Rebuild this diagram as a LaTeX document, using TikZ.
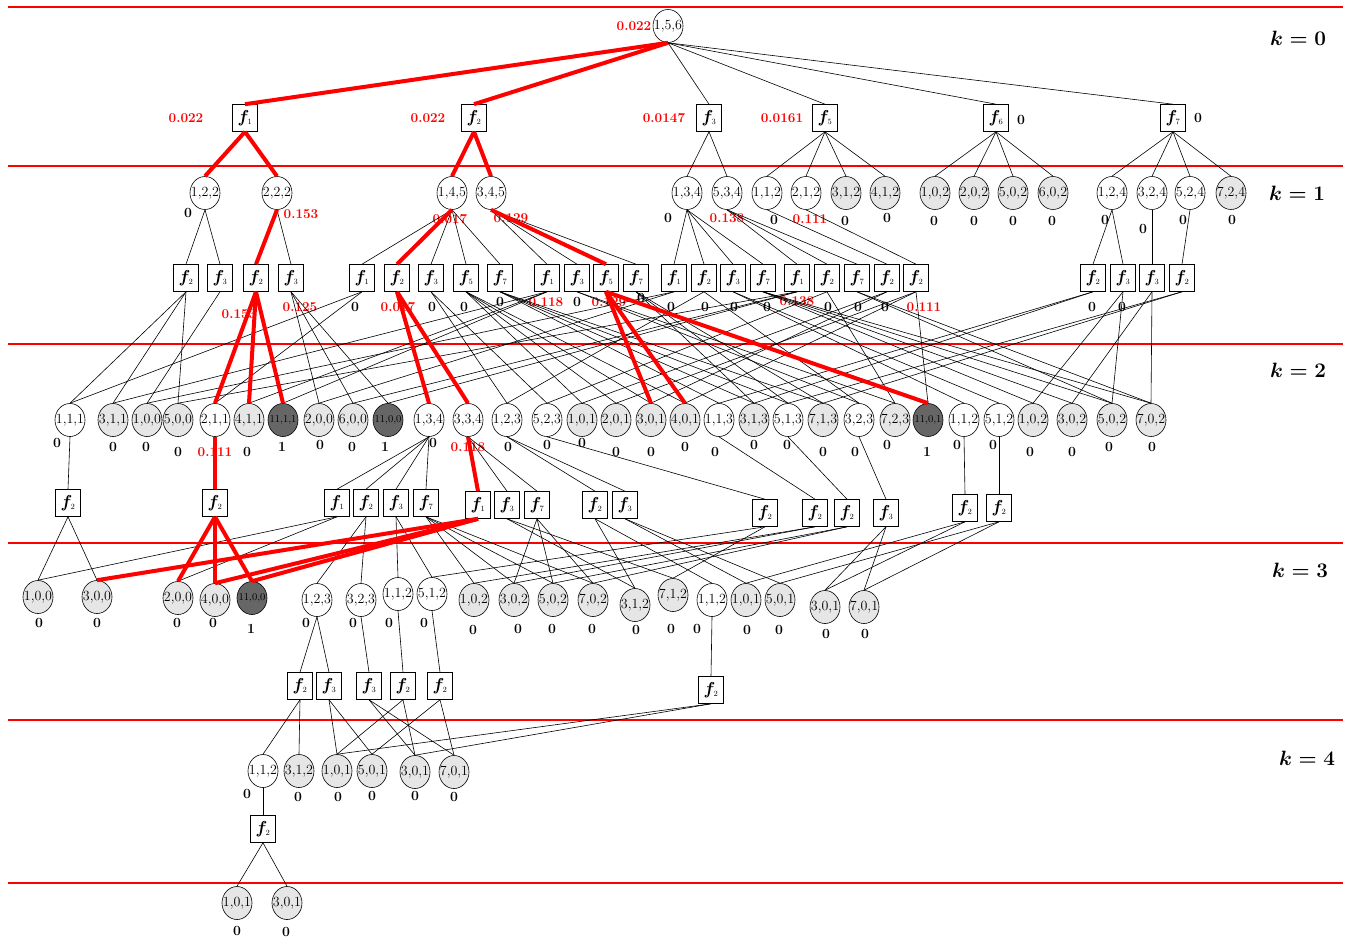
\documentclass[tikz,border=0pt]{standalone}
\usepackage{amsmath,bm}
\usetikzlibrary{shapes.geometric}
\definecolor{lg}{HTML}{E6E6E6}
\definecolor{dg}{HTML}{666666}
\newcommand{\FF}[1]{$\bm{f}_{\scriptscriptstyle #1}$}
\newcommand{\ST}[1]{\makebox[0pt]{#1}}
\tikzset{
 st/.style={ellipse,draw,line width=0.6pt,minimum width=30pt,minimum height=33pt,inner sep=0pt,fill=white,font=\fontsize{14}{14}\selectfont},
 gs/.style={st,fill=lg},
 ds/.style={st,fill=dg,font=\fontsize{10.5}{10.5}\selectfont},
 ac/.style={draw,line width=0.6pt,minimum width=25pt,minimum height=27pt,inner sep=0pt,fill=white,font=\fontsize{17}{17}\selectfont},
 zl/.style={font=\fontsize{14}{14}\selectfont\bfseries,inner sep=0pt},
 rl/.style={font=\fontsize{13.5}{13.5}\selectfont\bfseries,text=red,inner sep=0pt},
 ed/.style={line width=0.6pt},
 re/.style={line width=4pt,red},
 hl/.style={line width=2pt,red},
 kl/.style={font=\fontsize{21}{21}\selectfont\boldmath,inner sep=0pt},
}
\begin{document}
\begin{tikzpicture}[x=1pt,y=-1pt]
\useasboundingbox (0,0) rectangle (1351,939);
\foreach \yy in {7,166,344,543,720,883} \draw[hl] (8,\yy) -- (1343,\yy);
\node[kl] (k0) at (1298,38) {$k = 0$};
\node[kl] (k1) at (1297,193) {$k = 1$};
\node[kl] (k2) at (1298,370) {$k = 2$};
\node[kl] (k3) at (1300,570) {$k = 3$};
\node[kl] (k4) at (1307,758) {$k = 4$};
% ---------- k = 0
\node[st] (r) at (668,26) {\ST{1,5,6}};
\node[ac] (a1) at (245,118) {\FF1};
\node[ac] (a2) at (474,118) {\FF2};
\node[ac] (a3) at (709,118) {\FF3};
\node[ac] (a5) at (825,118) {\FF5};
\node[ac] (a6) at (996,118) {\FF6};
\node[ac] (a7) at (1173,118) {\FF7};
\node[rl] (lr) at (634,26) {0.022};
\node[rl] (la1) at (186,118) {0.022};
\node[rl] (la2) at (428,118) {0.022};
\node[rl] (la3) at (664,118) {0.0147};
\node[rl] (la5) at (782,118) {0.0161};
\node[zl] (la6) at (1021,120) {0};
\node[zl] (la7) at (1198,118) {0};
% ---------- k = 1 states
\node[st] (s122) at (205,193) {\ST{1,2,2}};
\node[st] (s222) at (277,193) {\ST{2,2,2}};
\node[st] (s145) at (452,193) {\ST{1,4,5}};
\node[st] (s345) at (491,193) {\ST{3,4,5}};
\node[st] (s134) at (687,193) {\ST{1,3,4}};
\node[st] (s534) at (727,193) {\ST{5,3,4}};
\node[st] (s112) at (767,193) {\ST{1,1,2}};
\node[st] (s212) at (806,193) {\ST{2,1,2}};
\node[gs] (s312) at (846,193) {\ST{3,1,2}};
\node[gs] (s412) at (885,193) {\ST{4,1,2}};
\node[gs] (s102) at (935,193) {\ST{1,0,2}};
\node[gs] (s202) at (974,193) {\ST{2,0,2}};
\node[gs] (s502) at (1013,193) {\ST{5,0,2}};
\node[gs] (s602) at (1053,193) {\ST{6,0,2}};
\node[st] (s124) at (1112,193) {\ST{1,2,4}};
\node[st] (s324) at (1152,193) {\ST{3,2,4}};
\node[st] (s524) at (1190,193) {\ST{5,2,4}};
\node[gs] (s724) at (1231,193) {\ST{7,2,4}};
\node[zl] (ls122) at (188,213) {0};
\node[rl] (ls222) at (301,214) {0.153};
\node[rl] (ls145) at (450,219) {0.017};
\node[rl] (ls345) at (511,218) {0.129};
\node[zl] (ls134) at (668,218) {0};
\node[rl] (ls534) at (727,218) {0.138};
\node[zl] (ls112) at (774,220) {0};
\node[rl] (ls212) at (810,219) {0.111};
\node[zl] (ls312) at (845,221) {0};
\node[zl] (ls412) at (887,218) {0};
\node[zl] (ls102) at (934,221) {0};
\node[zl] (ls202) at (974,221) {0};
\node[zl] (ls502) at (1013,221) {0};
\node[zl] (ls602) at (1052,221) {0};
\node[zl] (ls124) at (1105,220) {0};
\node[zl] (ls324) at (1143,229) {0};
\node[zl] (ls524) at (1183,220) {0};
\node[zl] (ls724) at (1232,220) {0};
% ---------- k = 1 actions
\node[ac] (b1) at (186,278) {\FF2};
\node[ac] (b2) at (220,278) {\FF3};
\node[ac] (b3) at (256,278) {\FF2};
\node[ac] (b4) at (291,278) {\FF3};
\node[ac] (b5) at (362,278) {\FF1};
\node[ac] (b6) at (397,278) {\FF2};
\node[ac] (b7) at (431,278) {\FF3};
\node[ac] (b8) at (466,278) {\FF5};
\node[ac] (b9) at (500,278) {\FF7};
\node[ac] (b10) at (547,278) {\FF1};
\node[ac] (b11) at (577,278) {\FF3};
\node[ac] (b12) at (606,278) {\FF5};
\node[ac] (b13) at (636,278) {\FF7};
\node[ac] (b14) at (674,278) {\FF1};
\node[ac] (b15) at (704,278) {\FF2};
\node[ac] (b16) at (733,278) {\FF3};
\node[ac] (b17) at (763,278) {\FF7};
\node[ac] (b18) at (797,278) {\FF1};
\node[ac] (b19) at (827,278) {\FF2};
\node[ac] (b20) at (857,278) {\FF7};
\node[ac] (b21) at (887,278) {\FF2};
\node[ac] (b22) at (916,278) {\FF2};
\node[ac] (b23) at (1093,278) {\FF2};
\node[ac] (b24) at (1123,278) {\FF3};
\node[ac] (b25) at (1152,278) {\FF3};
\node[ac] (b26) at (1182,278) {\FF2};
\node[rl] (lb3) at (239,314) {0.153};
\node[rl] (lb4) at (300,307) {0.125};
\node[zl] (lb5) at (355,307) {0};
\node[rl] (lb6) at (398,307) {0.017};
\node[zl] (lb7) at (432,307) {0};
\node[zl] (lb8) at (464,307) {0};
\node[zl] (lb9) at (500,302) {0};
\node[rl] (lb10) at (546,302) {0.118};
\node[zl] (lb11) at (577,302) {0};
\node[rl] (lb12) at (609,302) {0.129};
\node[zl] (lb13) at (641,298) {0};
\node[zl] (lb14) at (671,307) {0};
\node[zl] (lb15) at (705,307) {0};
\node[zl] (lb16) at (734,307) {0};
\node[zl] (lb17) at (767,307) {0};
\node[rl] (lb18) at (797,301) {0.138};
\node[zl] (lb19) at (828,307) {0};
\node[zl] (lb20) at (858,307) {0};
\node[zl] (lb21) at (885,307) {0};
\node[rl] (lb22) at (924,307) {0.111};
\node[zl] (lb23) at (1092,307) {0};
\node[zl] (lb24) at (1122,307) {0};
% ---------- k = 2 states
\node[st] (t111) at (70,420) {\ST{1,1,1}};
\node[gs] (t311) at (113,420) {\ST{3,1,1}};
\node[gs] (t100) at (147,420) {\ST{1,0,0}};
\node[gs] (t500) at (178,420) {\ST{5,0,0}};
\node[st] (t211) at (215,420) {\ST{2,1,1}};
\node[gs] (t411) at (249,420) {\ST{4,1,1}};
\node[ds] (tE111) at (283,420) {\ST{11,1,1}};
\node[gs] (t200) at (319,420) {\ST{2,0,0}};
\node[gs] (t600) at (353,420) {\ST{6,0,0}};
\node[ds] (tE100) at (388,420) {\ST{11,0,0}};
\node[st] (t134) at (429,420) {\ST{1,3,4}};
\node[st] (t334) at (468,420) {\ST{3,3,4}};
\node[st] (t123) at (507,420) {\ST{1,2,3}};
\node[st] (t523) at (547,420) {\ST{5,2,3}};
\node[gs] (t101) at (582,420) {\ST{1,0,1}};
\node[gs] (t201) at (616,420) {\ST{2,0,1}};
\node[gs] (t301) at (651,420) {\ST{3,0,1}};
\node[gs] (t401) at (685,420) {\ST{4,0,1}};
\node[st] (t113) at (719,420) {\ST{1,1,3}};
\node[gs] (t313) at (754,420) {\ST{3,1,3}};
\node[st] (t513) at (788,420) {\ST{5,1,3}};
\node[gs] (t713) at (823,420) {\ST{7,1,3}};
\node[st] (t323) at (859,420) {\ST{3,2,3}};
\node[gs] (t723) at (895,420) {\ST{7,2,3}};
\node[ds] (tE101) at (928,420) {\ST{11,0,1}};
\node[st] (t112) at (964,420) {\ST{1,1,2}};
\node[st] (t512) at (999,420) {\ST{5,1,2}};
\node[gs] (t102) at (1033,420) {\ST{1,0,2}};
\node[gs] (t302) at (1072,420) {\ST{3,0,2}};
\node[gs] (t502) at (1112,420) {\ST{5,0,2}};
\node[gs] (t702) at (1151,420) {\ST{7,0,2}};
\node[zl] (lt111) at (57,443) {0};
\node[zl] (lt311) at (113,447) {0};
\node[zl] (lt100) at (146,447) {0};
\node[zl] (lt500) at (178,452) {0};
\node[rl] (lt211) at (215,452) {0.111};
\node[zl] (lt411) at (247,452) {0};
\node[zl] (ltE111) at (282,447) {1};
\node[zl] (lt200) at (320,445) {0};
\node[zl] (lt600) at (352,447) {0};
\node[zl] (ltE100) at (385,447) {1};
\node[zl] (lt134) at (433,443) {0};
\node[rl] (lt334) at (468,447) {0.118};
\node[zl] (lt123) at (508,447) {0};
\node[zl] (lt523) at (547,445) {0};
\node[zl] (lt101) at (582,443) {0};
\node[zl] (lt201) at (616,452) {0};
\node[zl] (lt301) at (651,452) {0};
\node[zl] (lt401) at (685,447) {0};
\node[zl] (lt113) at (715,452) {0};
\node[zl] (lt313) at (754,445) {0};
\node[zl] (lt513) at (787,445) {0};
\node[zl] (lt713) at (823,452) {0};
\node[zl] (lt323) at (855,452) {0};
\node[zl] (lt723) at (887,445) {0};
\node[zl] (ltE101) at (927,452) {1};
\node[zl] (lt112) at (957,445) {0};
\node[zl] (lt512) at (993,445) {0};
\node[zl] (lt102) at (1030,452) {0};
\node[zl] (lt302) at (1072,452) {0};
\node[zl] (lt502) at (1109,447) {0};
\node[zl] (lt702) at (1152,447) {0};
% ---------- k = 2 actions
\node[ac] (c1) at (68,503) {\FF2};
\node[ac] (c2) at (215,503) {\FF2};
\node[ac] (c3) at (337,503) {\FF1};
\node[ac] (c4) at (366,503) {\FF2};
\node[ac] (c5) at (396,503) {\FF3};
\node[ac] (c6) at (426,503) {\FF7};
\node[ac] (c7) at (478,505) {\FF1};
\node[ac] (c8) at (507,505) {\FF3};
\node[ac] (c9) at (537,505) {\FF7};
\node[ac] (c10) at (595,505) {\FF2};
\node[ac] (c11) at (625,505) {\FF3};
\node[ac] (c12) at (765,513) {\FF2};
\node[ac] (c13) at (815,513) {\FF2};
\node[ac] (c14) at (847,513) {\FF2};
\node[ac] (c15) at (886,513) {\FF3};
\node[ac] (c16) at (965,508) {\FF2};
\node[ac] (c17) at (999,508) {\FF2};
% ---------- k = 3 states
\node[gs] (u100) at (38,597) {\ST{1,0,0}};
\node[gs] (u300) at (97,597) {\ST{3,0,0}};
\node[gs] (u200) at (178,598) {\ST{2,0,0}};
\node[gs] (u400) at (215,600) {\ST{4,0,0}};
\node[ds] (uE100) at (252,598) {\ST{11,0,0}};
\node[st] (u123) at (317,600) {\ST{1,2,3}};
\node[st] (u323) at (361,600) {\ST{3,2,3}};
\node[st] (u112a) at (398,594) {\ST{1,1,2}};
\node[st] (u512) at (432,594) {\ST{5,1,2}};
\node[gs] (u102) at (474,600) {\ST{1,0,2}};
\node[gs] (u302) at (514,600) {\ST{3,0,2}};
\node[gs] (u502) at (553,600) {\ST{5,0,2}};
\node[gs] (u702) at (593,600) {\ST{7,0,2}};
\node[gs] (u312) at (635,605) {\ST{3,1,2}};
\node[gs] (u712) at (673,595) {\ST{7,1,2}};
\node[st] (u112b) at (712,600) {\ST{1,1,2}};
\node[gs] (u101) at (746,600) {\ST{1,0,1}};
\node[gs] (u501) at (780,600) {\ST{5,0,1}};
\node[gs] (u301) at (825,607) {\ST{3,0,1}};
\node[gs] (u701) at (864,607) {\ST{7,0,1}};
\node[zl] (lu100) at (39,623) {0};
\node[zl] (lu300) at (97,623) {0};
\node[zl] (lu200) at (177,623) {0};
\node[zl] (lu400) at (213,623) {0};
\node[zl] (luE100) at (251,629) {1};
\node[zl] (lu123) at (306,623) {0};
\node[zl] (lu323) at (353,623) {0};
\node[zl] (lu112a) at (389,623) {0};
\node[zl] (lu512) at (424,623) {0};
\node[zl] (lu102) at (473,630) {0};
\node[zl] (lu302) at (518,629) {0};
\node[zl] (lu502) at (552,629) {0};
\node[zl] (lu702) at (592,629) {0};
\node[zl] (lu312) at (636,630) {0};
\node[zl] (lu712) at (671,629) {0};
\node[zl] (lu112b) at (697,629) {0};
\node[zl] (lu101) at (747,630) {0};
\node[zl] (lu501) at (779,630) {0};
\node[zl] (lu301) at (826,634) {0};
\node[zl] (lu701) at (865,634) {0};
% ---------- k = 3 actions
\node[ac] (d1) at (300,686) {\FF2};
\node[ac] (d2) at (329,686) {\FF3};
\node[ac] (d3) at (369,686) {\FF3};
\node[ac] (d4) at (403,686) {\FF2};
\node[ac] (d5) at (440,686) {\FF2};
\node[ac] (d6) at (711,690) {\FF2};
% ---------- k = 4 states
\node[st] (v112) at (263,771) {\ST{1,1,2}};
\node[gs] (v312) at (299,771) {\ST{3,1,2}};
\node[gs] (v101) at (337,771) {\ST{1,0,1}};
\node[gs] (v501) at (372,771) {\ST{5,0,1}};
\node[gs] (v301) at (415,772) {\ST{3,0,1}};
\node[gs] (v701) at (454,772) {\ST{7,0,1}};
\node[zl] (lv112) at (247,794) {0};
\node[zl] (lv312) at (298,797) {0};
\node[zl] (lv101) at (338,797) {0};
\node[zl] (lv501) at (372,796) {0};
\node[zl] (lv301) at (415,796) {0};
\node[zl] (lv701) at (454,797) {0};
\node[ac] (e1) at (263,829) {\FF2};
\node[gs] (w101) at (237,903) {\ST{1,0,1}};
\node[gs] (w301) at (287,903) {\ST{3,0,1}};
\node[zl] (lw101) at (237,931) {0};
\node[zl] (lw301) at (286,932) {0};
% ---------- thin connectors
\foreach \p/\q in {r/a3,r/a5,r/a6,r/a7,
 a3/s134,a3/s534,a5/s112,a5/s212,a5/s312,a5/s412,a6/s102,a6/s202,a6/s502,a6/s602,
 a7/s124,a7/s324,a7/s524,a7/s724,
 s122/b1,s122/b2,s222/b4,s145/b5,s145/b7,s145/b8,s145/b9,s345/b10,s345/b11,s345/b13,
 s134/b14,s134/b15,s134/b16,s134/b17,s534/b18,s534/b19,s534/b20,s112/b21,s212/b22,
 s124/b23,s124/b24,s324/b25,s524/b26,
 b1/t111,b1/t311,b1/t500,b2/t100,b4/t200,b4/t600,b4/tE100,b5/t111,b5/t211,
 b7/t123,b7/t523,b8/t101,b8/t201,b8/t301,b8/t401,b9/t113,b9/t313,b9/t513,b9/t713,
 b10/t311,b10/t411,b10/tE111,b11/t323,b11/t723,b13/t313,b13/t513,b13/t713,
 b14/t100,b14/t200,b15/t123,b15/t323,b16/t112,b16/t512,
 b17/t102,b17/t302,b17/t502,b17/t702,b18/t500,b18/t600,b18/tE100,b19/t523,b19/t723,
 b20/t502,b20/t702,b21/t101,b21/t301,b22/t201,b22/t401,b22/tE101,
 b23/t113,b23/t313,b24/t102,b24/t502,b25/t302,b25/t702,b26/t513,b26/t713,
 t111/c1,t134/c3,t134/c4,t134/c5,t134/c6,t334/c8,t334/c9,t123/c10,t123/c11,
 t523/c12,t113/c13,t513/c14,t323/c15,t112/c16,t512/c17,
 c1/u100,c1/u300,c3/u100,c3/u200,c4/u123,c4/u323,c5/u112a,c5/u512,
 c6/u102,c6/u302,c6/u502,c6/u702,c8/u312,c8/u712,c9/u302,c9/u502,c9/u702,
 c10/u112b,c10/u312,c11/u101,c11/u501,c12/u512,c12/u712,c13/u102,c13/u302,
 c14/u502,c14/u702,c15/u301,c15/u701,c16/u101,c16/u301,c17/u501,c17/u701,
 u123/d1,u123/d2,u323/d3,u112a/d4,u512/d5,u112b/d6,
 d1/v112,d1/v312,d2/v101,d2/v501,d3/v301,d3/v701,d4/v101,d4/v301,d5/v501,d5/v701,
 d6/v101,d6/v301,v112/e1,e1/w101,e1/w301}
 \draw[ed] (\p.south) -- (\q.north);
% ---------- red (optimal) connectors
\foreach \p/\q in {r/a1,r/a2,a1/s122,a1/s222,a2/s145,a2/s345,
 s222/b3,s145/b6,s345/b12,b3/t211,b3/t411,b3/tE111,b6/t134,b6/t334,
 b12/t301,b12/t401,b12/tE101,t211/c2,t334/c7,
 c2/u200,c2/u400,c2/uE100,c7/u300,c7/u400,c7/uE100}
 \draw[re] (\p.south) -- (\q.north);
\end{tikzpicture}
\end{document}
